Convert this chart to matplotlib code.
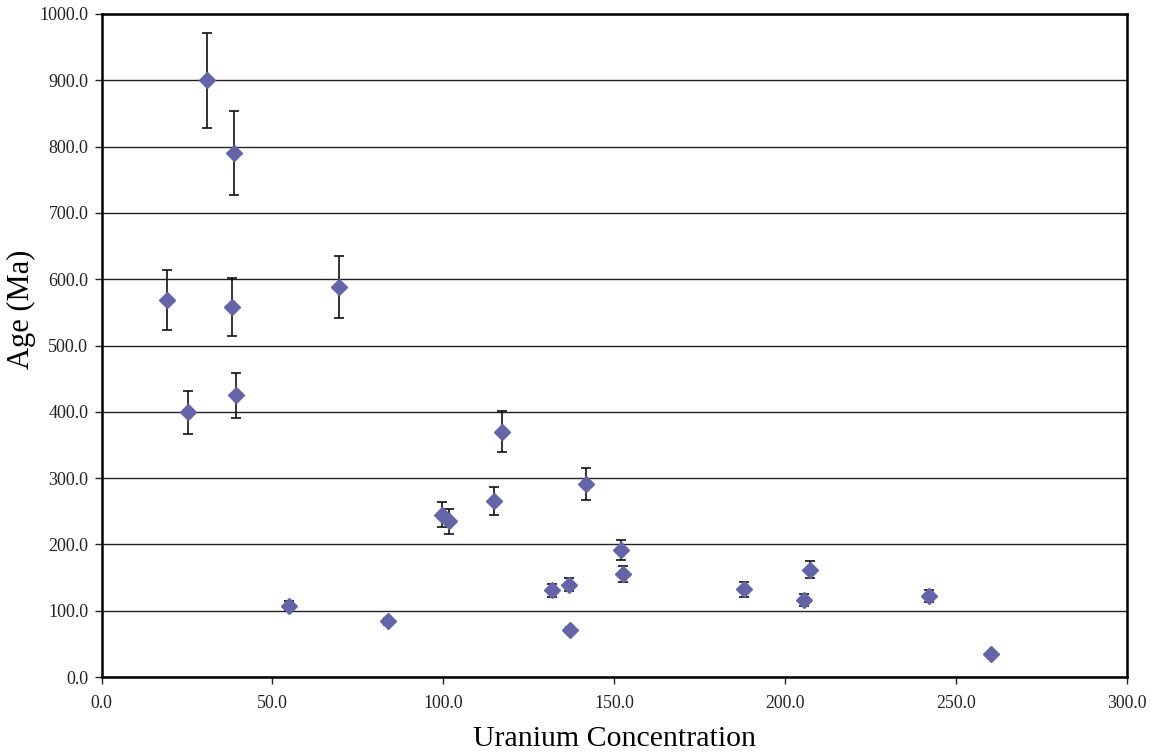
import matplotlib
matplotlib.use("Agg")
import matplotlib.pyplot as plt
import numpy as np

uranium = [30.8, 38.9, 19.1, 38.1, 69.5, 25.3, 39.3, 117.1, 141.7, 114.8, 99.7,
           101.7, 152.0, 152.7, 131.7, 136.8, 137.1, 83.9, 54.9, 188.0, 205.5,
           207.3, 242.2, 260.2]
age = [900, 790, 569, 558, 588, 399, 425, 370, 291, 265, 245,
       235, 192, 155, 131, 139, 71, 84, 107, 132, 116,
       162, 122, 34]
age_err = [72, 63, 45, 44, 47, 32, 34, 31, 24, 21, 19,
           19, 15, 12, 10, 10, 5, 5, 8, 12, 9,
           13, 9, 3]

x_ticks = [0, 50, 100, 150, 200, 250, 300]
y_ticks = [0, 100, 200, 300, 400, 500, 600, 700, 800, 900, 1000]

plt.rcParams['font.family'] = ['Liberation Serif', 'DejaVu Serif']

fig = plt.figure(figsize=(11.59, 7.54), dpi=100)
ax = fig.add_axes([101.5 / 1159, 1 - 677 / 754, (1127 - 101.5) / 1159, (677 - 14) / 754])

ax.errorbar(uranium, age, yerr=age_err, fmt='none', ecolor='#111111',
            elinewidth=1.2, capsize=3.8, capthick=1.2, zorder=3)
ax.plot(uranium, age, linestyle='none', marker='D', markersize=8.5,
        color='#6464a8', markeredgecolor='#6464a8', zorder=4)

ax.set_xlim(0, 300)
ax.set_ylim(0, 1000)
ax.set_xticks(x_ticks)
ax.set_yticks(y_ticks)
ax.set_xticklabels([f"{v:.1f}" for v in x_ticks])
ax.set_yticklabels([f"{v:.1f}" for v in y_ticks])
ax.yaxis.grid(True, color='#222222', linewidth=1.0)
ax.set_axisbelow(True)
for s in ax.spines.values():
    s.set_linewidth(1.8)
    s.set_color('black')
ax.tick_params(axis='both', direction='out', length=5, width=1.0,
               colors='#222222')
ax.tick_params(axis='x', pad=8, labelsize=12.8)
ax.tick_params(axis='y', pad=4.5, labelsize=13)

ax.set_xlabel('Uranium Concentration', fontsize=21.5, labelpad=10)
ax.set_ylabel('Age (Ma)', fontsize=22)
ax.yaxis.set_label_coords((36 - 101.5) / 1025.5, (677 - 309) / 663)

fig.savefig('out.png', dpi=100)
